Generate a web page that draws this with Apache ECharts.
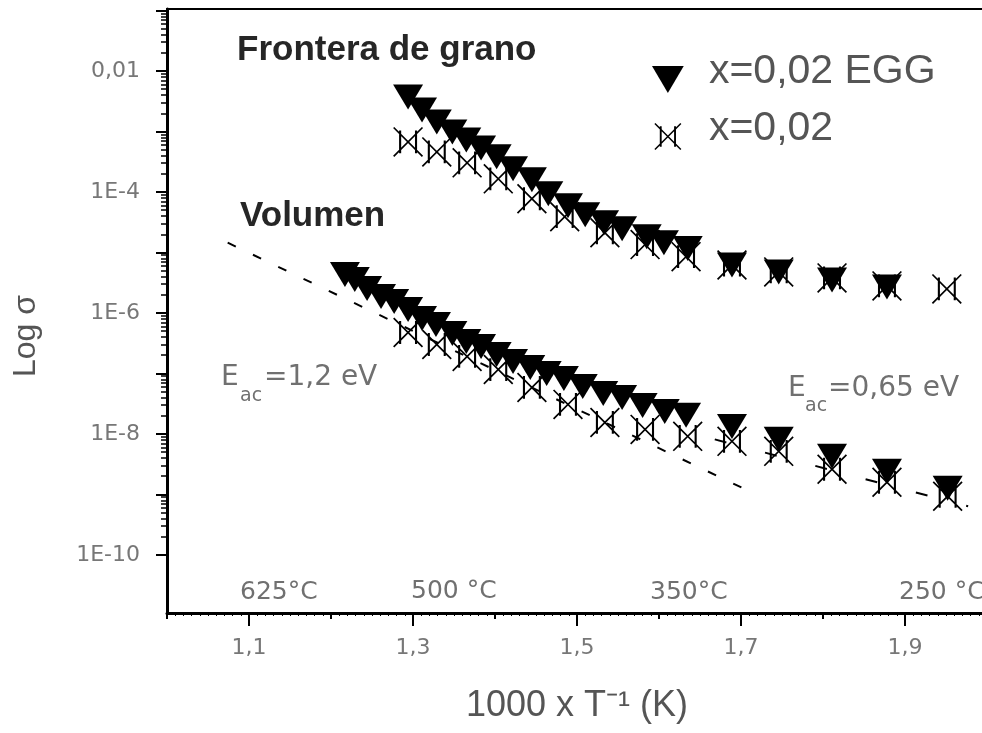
<!DOCTYPE html>
<html>
<head>
<meta charset="utf-8">
<title>Log sigma vs 1000/T</title>
<script src="https://cdn.jsdelivr.net/npm/echarts@6/dist/echarts.min.js"></script>
<style>
    html, body { margin: 0; padding: 0; background: #fff; }
    #main { width: 982px; height: 733px; }
</style>
</head>
<body>
<div id="main"></div>
<script>
// Frontera de grano, x=0,02 EGG (filled triangles)
var gbEggT = [1.294, 1.311, 1.329, 1.348, 1.365, 1.383, 1.402, 1.422, 1.445, 1.465, 1.489,
              1.510, 1.533, 1.555, 1.585, 1.606, 1.635, 1.689, 1.746, 1.811, 1.878];
var gbEggS = [3.73e-3, 2.27e-3, 1.44e-3, 9.84e-4, 7.26e-4, 5.36e-4, 3.81e-4, 2.42e-4, 1.59e-4, 9.33e-5, 5.91e-5,
              4.20e-5, 3.10e-5, 2.47e-5, 1.82e-5, 1.45e-5, 1.16e-5, 6.21e-6, 4.77e-6, 3.51e-6, 2.69e-6];
// Frontera de grano, x=0,02 (crossed boxes)
var gbT = [1.294, 1.329, 1.366, 1.404, 1.445, 1.485, 1.534, 1.583, 1.633, 1.689, 1.746, 1.811, 1.878, 1.951];
var gbS = [6.73e-4, 4.60e-4, 3.03e-4, 1.65e-4, 7.73e-5, 3.90e-5, 2.12e-5, 1.35e-5, 8.53e-6, 6.21e-6,
           4.77e-6, 3.80e-6, 2.80e-6, 2.50e-6];
// Volumen, x=0,02 EGG
var volEggT = [1.217, 1.229, 1.244, 1.261, 1.277, 1.294, 1.311, 1.328, 1.348, 1.365, 1.383, 1.402, 1.422, 1.443,
               1.463, 1.484, 1.507, 1.532, 1.555, 1.580, 1.607, 1.633, 1.689, 1.746, 1.811, 1.878, 1.952];
var volEggS = [4.31e-6, 3.56e-6, 2.53e-6, 1.87e-6, 1.54e-6, 1.14e-6, 8.09e-7, 6.44e-7, 4.57e-7, 3.38e-7, 2.79e-7,
               2.06e-7, 1.58e-7, 1.26e-7, 1.00e-7, 8.27e-8, 6.10e-8, 4.68e-8, 4.02e-8, 2.96e-8, 2.36e-8, 2.03e-8,
               1.33e-8, 8.14e-9, 4.27e-9, 2.41e-9, 1.27e-9];
// Volumen, x=0,02
var volT = [1.294, 1.329, 1.366, 1.404, 1.445, 1.489, 1.534, 1.583, 1.635, 1.689, 1.746, 1.811, 1.878, 1.952];
var volS = [4.75e-7, 3.01e-7, 1.91e-7, 1.16e-7, 5.87e-8, 3.08e-8, 1.55e-8, 1.19e-8, 9.12e-9, 7.55e-9,
            5.16e-9, 2.61e-9, 1.59e-9, 9.33e-10];
// dashed fits (Eac=1,2 eV and Eac=0,65 eV)
var fitHighT = [1.074, 1.705];
var fitHighS = [1.45e-5, 1.22e-9];
var fitLowT = [1.668, 1.977];
var fitLowS = [8.14e-9, 6.38e-10];

// axis ticks (y axis is log10 sigma)
var yMin = -10.96, yMax = -0.975;
var yMajorTicks = [-10, -9, -8, -7, -6, -5, -4, -3, -2, -1];
var yLabelTicks = [-10, -8, -6, -4, -2];
var xLabelTicks = [1.1, 1.3, 1.5, 1.7, 1.9];
var xMidTicks = [1.0, 1.2, 1.4, 1.6, 1.8, 2.0];

var yMinorTicks = [];
for (var e = -10; e <= -2; e++) {
    for (var k = 2; k <= 9; k++) {
        var v = e + Math.log10(k);
        if (v < yMax) yMinorTicks.push(v);
    }
}

function pairs(t, s) {
    return t.map(function (x, i) { return [x, Math.log10(s[i])]; });
}

var crossBox = 'path://M0 4L4 0L100 96L96 100Z M96 0L100 4L4 100L0 96Z M20 12L27 12L27 88L20 88Z M73 12L80 12L80 88L73 88Z';
var downTri = 'path://M0 0L100 0L50 85Z';
var sans = '"Liberation Sans", Arial, sans-serif';
var dejavu = '"DejaVu Sans", sans-serif';

var myChart = echarts.init(document.getElementById('main'));

var option = {
    animation: false,
    backgroundColor: '#fff',
    grid: {
        left: 167, top: 9, right: -5, bottom: 120,
        show: true, borderColor: '#000', borderWidth: 2,
        outerBoundsMode: 'none'
    },
    legend: {
        orient: 'vertical',
        left: 652, top: 51,
        padding: 0,
        itemWidth: 34, itemHeight: 27, itemGap: 0,
        data: [
            { name: 'x=0,02 EGG', icon: downTri },
            { name: 'x=0,02', icon: crossBox }
        ],
        formatter: '{t|{name}}',
        textStyle: {
            rich: {
                t: { fontSize: 41, fontFamily: sans, color: '#555', lineHeight: 32, padding: [0, 0, 16, 19] }
            }
        }
    },
    xAxis: [
        {
            type: 'value', min: 1, max: 2, position: 'bottom',
            name: '1000 x T⁻¹ (K)', nameLocation: 'middle', nameGap: 75,
            nameTextStyle: { fontSize: 36, fontFamily: sans, color: '#555' },
            axisLine: { show: true, lineStyle: { color: '#000', width: 3 } },
            axisTick: { show: true, customValues: xLabelTicks, length: 13, lineStyle: { color: '#000', width: 2 } },
            axisLabel: {
                show: true, customValues: xLabelTicks, margin: 24,
                fontSize: 22, fontFamily: dejavu, color: '#777',
                formatter: function (val) { return String(val).replace('.', ','); }
            },
            splitLine: { show: false }
        },
        {
            type: 'value', min: 1, max: 2, position: 'bottom', offset: 0,
            axisLine: { show: false },
            axisTick: { show: true, customValues: xMidTicks, length: 6, lineStyle: { color: '#000', width: 2 } },
            axisLabel: { show: false },
            splitLine: { show: false }
        },
        {
            type: 'value', min: 1, max: 2, interval: 0.01, position: 'bottom', offset: 0,
            axisLine: { show: false },
            axisTick: { show: true, length: 3, lineStyle: { color: '#000', width: 1 } },
            axisLabel: { show: false },
            splitLine: { show: false }
        }
    ],
    yAxis: [
        {
            type: 'value', min: yMin, max: yMax, position: 'left',
            axisLine: { show: true, lineStyle: { color: '#000', width: 3 } },
            axisTick: { show: true, customValues: yMajorTicks, length: 11, lineStyle: { color: '#000', width: 2 } },
            axisLabel: {
                show: true, customValues: yLabelTicks, margin: 27,
                fontSize: 22, fontFamily: dejavu, color: '#777',
                formatter: function (val) { return val === -2 ? '0,01' : '1E' + val; }
            },
            splitLine: { show: false }
        },
        {
            type: 'value', min: yMin, max: yMax, position: 'left', offset: 0,
            axisLine: { show: false },
            axisTick: { show: true, customValues: yMinorTicks, length: 6, lineStyle: { color: '#000', width: 1.5 } },
            axisLabel: { show: false },
            splitLine: { show: false }
        }
    ],
    series: [
        {
            name: 'fit Eac 1,2', type: 'line', symbol: 'none', silent: true,
            lineStyle: { color: '#000', width: 2, type: [9, 19] },
            data: pairs(fitHighT, fitHighS)
        },
        {
            name: 'fit Eac 0,65', type: 'line', symbol: 'none', silent: true,
            lineStyle: { color: '#000', width: 2, type: [12, 40] },
            data: pairs(fitLowT, fitLowS)
        },
        {
            name: 'x=0,02 EGG', type: 'scatter',
            symbol: 'triangle', symbolSize: [30, 25], symbolRotate: 180,
            itemStyle: { color: '#000', opacity: 1 },
            data: pairs(gbEggT, gbEggS).concat(pairs(volEggT, volEggS))
        },
        {
            name: 'x=0,02', type: 'scatter',
            symbol: crossBox, symbolSize: [30, 30],
            itemStyle: { color: '#000', opacity: 1 },
            data: pairs(gbT, gbS).concat(pairs(volT, volS))
        }
    ],
    graphic: [
        { type: 'text', x: 237, y: 50, style: { text: 'Frontera de grano', font: 'bold 35px ' + sans, fill: '#262626', verticalAlign: 'middle' } },
        { type: 'text', x: 240, y: 216, style: { text: 'Volumen', font: 'bold 35px ' + sans, fill: '#262626', verticalAlign: 'middle' } },

        { type: 'text', x: 221, y: 378, style: { text: 'E', font: '28px ' + dejavu, fill: '#707070', verticalAlign: 'middle' } },
        { type: 'text', x: 240, y: 396, style: { text: 'ac', font: '19px ' + dejavu, fill: '#707070', verticalAlign: 'middle' } },
        { type: 'text', x: 264, y: 378, style: { text: '=1,2 eV', font: '28px ' + dejavu, fill: '#707070', verticalAlign: 'middle' } },

        { type: 'text', x: 788, y: 389, style: { text: 'E', font: '28px ' + dejavu, fill: '#707070', verticalAlign: 'middle' } },
        { type: 'text', x: 805, y: 406, style: { text: 'ac', font: '19px ' + dejavu, fill: '#707070', verticalAlign: 'middle' } },
        { type: 'text', x: 828, y: 389, style: { text: '=0,65 eV', font: '28px ' + dejavu, fill: '#707070', verticalAlign: 'middle' } },

        { type: 'text', x: 240, y: 592, style: { text: '625°C', font: '25px ' + dejavu, fill: '#707070', verticalAlign: 'middle' } },
        { type: 'text', x: 411, y: 591, style: { text: '500 °C', font: '25px ' + dejavu, fill: '#707070', verticalAlign: 'middle' } },
        { type: 'text', x: 650, y: 592, style: { text: '350°C', font: '25px ' + dejavu, fill: '#707070', verticalAlign: 'middle' } },
        { type: 'text', x: 899, y: 592, style: { text: '250 °C', font: '25px ' + dejavu, fill: '#707070', verticalAlign: 'middle' } },

        { type: 'text', x: 26, y: 336, rotation: Math.PI / 2, style: { text: 'Log σ', font: '32px ' + sans, fill: '#555', align: 'center', verticalAlign: 'middle' } }
    ]
};

option && myChart.setOption(option);
</script>
</body>
</html>
